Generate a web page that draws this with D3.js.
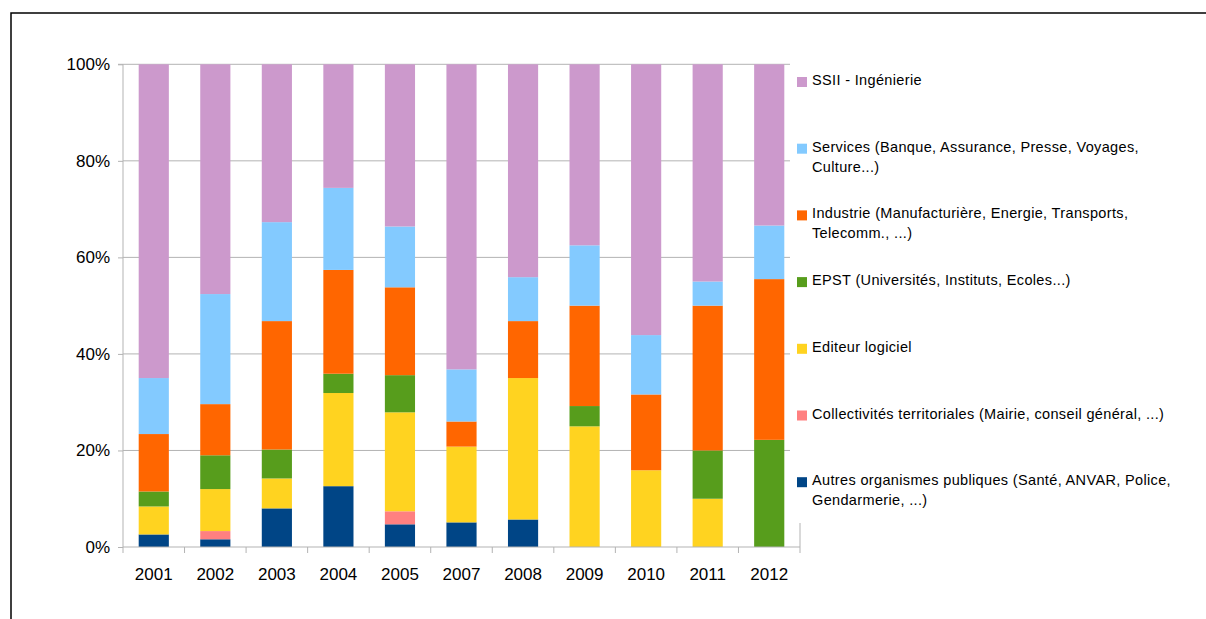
<!DOCTYPE html>
<html>
<head>
<meta charset="utf-8">
<script src="https://cdn.jsdelivr.net/npm/d3@7"></script>
<style>
  html, body { margin: 0; padding: 0; background: #fff; }
  svg { display: block; font-family: "Liberation Sans", Arial, sans-serif; }
</style>
</head>
<body>
<svg id="chart" width="1206" height="619"></svg>
<script>
// ---- Data (percent share per year, bottom to top) ----
const years = ["2001","2002","2003","2004","2005","2007","2008","2009","2010","2011","2012"];
const autres       = [2.6, 1.6, 8.0, 12.6, 4.7, 5.1, 5.7, 0, 0, 0, 0];
const collectivites= [0, 1.7, 0, 0, 2.7, 0, 0, 0, 0, 0, 0];
const editeur      = [5.8, 8.7, 6.2, 19.3, 20.5, 15.7, 29.3, 25.0, 15.9, 10.0, 0];
const epst         = [3.1, 7.0, 6.0, 4.0, 7.7, 0, 0, 4.2, 0, 10.0, 22.2];
const industrie    = [11.9, 10.6, 26.6, 21.5, 18.2, 5.2, 11.8, 20.8, 15.7, 30.0, 33.3];
const services     = [11.6, 22.8, 20.5, 17.0, 12.6, 10.8, 9.1, 12.5, 12.3, 5.0, 11.1];
const ssii         = [65.0, 47.6, 32.7, 25.6, 33.6, 63.2, 44.1, 37.5, 56.1, 45.0, 33.4];

const seriesKeys = ["autres","collectivites","editeur","epst","industrie","services","ssii"];
const seriesValues = [autres, collectivites, editeur, epst, industrie, services, ssii];
const seriesLabels = [
  "Autres organismes publiques (Santé, ANVAR, Police,\nGendarmerie, ...)",
  "Collectivités territoriales (Mairie, conseil général, ...)",
  "Editeur logiciel",
  "EPST (Universités, Instituts, Ecoles...)",
  "Industrie (Manufacturière, Energie, Transports,\nTelecomm., ...)",
  "Services (Banque, Assurance, Presse, Voyages,\nCulture...)",
  "SSII - Ingénierie"
];
const seriesColors = ["#004586","#ff8080","#ffd320","#579d1c","#ff6600","#83caff","#cc99cc"];
const yTicks = [0, 0.2, 0.4, 0.6, 0.8, 1.0];

// ---- Build table ----
const table = years.map((y, i) => {
  const row = { year: y };
  seriesKeys.forEach((k, j) => row[k] = seriesValues[j][i]);
  return row;
});
const stacked = d3.stack().keys(seriesKeys).offset(d3.stackOffsetExpand)(table);

const svg = d3.select("#chart");

// frame
svg.append("path").attr("d", "M11,619 L11,13 L1206,13")
  .attr("fill", "none").attr("stroke", "#000").attr("stroke-width", 1.5);

const x0 = 123, x1 = 800, yTop = 64.3, yBot = 547;
const x = d3.scaleBand().domain(years).range([x0, x1]).padding(0);
const y = d3.scaleLinear().domain([0, 1]).range([yBot, yTop]);
const barW = x.bandwidth() * 0.49;

// gridlines
svg.append("g").selectAll("line").data(yTicks.filter(t => t > 0)).join("line")
  .attr("x1", x0).attr("x2", 790)
  .attr("y1", d => y(d)).attr("y2", d => y(d))
  .attr("stroke", "#b3b3b3").attr("stroke-width", 1);

// bars
const g = svg.append("g");
stacked.forEach((s, j) => {
  g.append("g").attr("fill", seriesColors[j])
    .selectAll("rect").data(s).join("rect")
    .attr("x", d => x(d.data.year) + (x.bandwidth() - barW) / 2)
    .attr("width", barW)
    .attr("y", d => y(d[1]))
    .attr("height", d => Math.max(0, y(d[0]) - y(d[1])));
});

// y axis
const yAxis = d3.axisLeft(y).tickValues(yTicks).tickSize(5).tickPadding(8)
  .tickFormat(d3.format(".0%"));
const ya = svg.append("g").attr("transform", `translate(${x0},0)`).call(yAxis);
ya.select(".domain").attr("stroke", "#b3b3b3").attr("d", `M-5,${y(1)}H0V${y(0)}`);
ya.selectAll(".tick line").attr("stroke", "#b3b3b3");
ya.selectAll("text").attr("font-size", 17).attr("fill", "#000")
  .attr("font-family", "Liberation Sans, Arial, sans-serif");

// x axis
const xAxis = d3.axisBottom(x).tickSize(0).tickPadding(21);
const xa = svg.append("g").attr("transform", `translate(0,${yBot})`).call(xAxis);
xa.select(".domain").attr("stroke", "#b3b3b3").attr("d", `M${x0},0H${x1}`);
xa.selectAll("text").attr("font-size", 17).attr("fill", "#000")
  .attr("font-family", "Liberation Sans, Arial, sans-serif");
// boundary ticks
const bounds = years.map(d => x(d)).concat([x1]);
xa.selectAll(".bt").data(bounds).join("line").attr("class", "bt")
  .attr("x1", d => d).attr("x2", d => d)
  .attr("y1", (d, i) => i === bounds.length - 1 ? -24 : 0).attr("y2", 6)
  .attr("stroke", "#b3b3b3");

// legend (top to bottom: reverse order)
const legend = svg.append("g");
const order = d3.range(seriesKeys.length).reverse();
order.forEach((j, idx) => {
  const cy = 80 + idx * 66.7;
  legend.append("rect").attr("x", 797).attr("y", cy - 3).attr("width", 10).attr("height", 10)
    .attr("fill", seriesColors[j]);
  const t = legend.append("text").attr("x", 812).attr("y", cy)
    .attr("font-size", 14.5).attr("letter-spacing", 0.35).attr("fill", "#000")
    .attr("dominant-baseline", "central");
  seriesLabels[j].split("\n").forEach((line, li) => {
    t.append("tspan").attr("x", 812).attr("dy", li === 0 ? 0 : 20).text(line);
  });
});
</script>
</body>
</html>
